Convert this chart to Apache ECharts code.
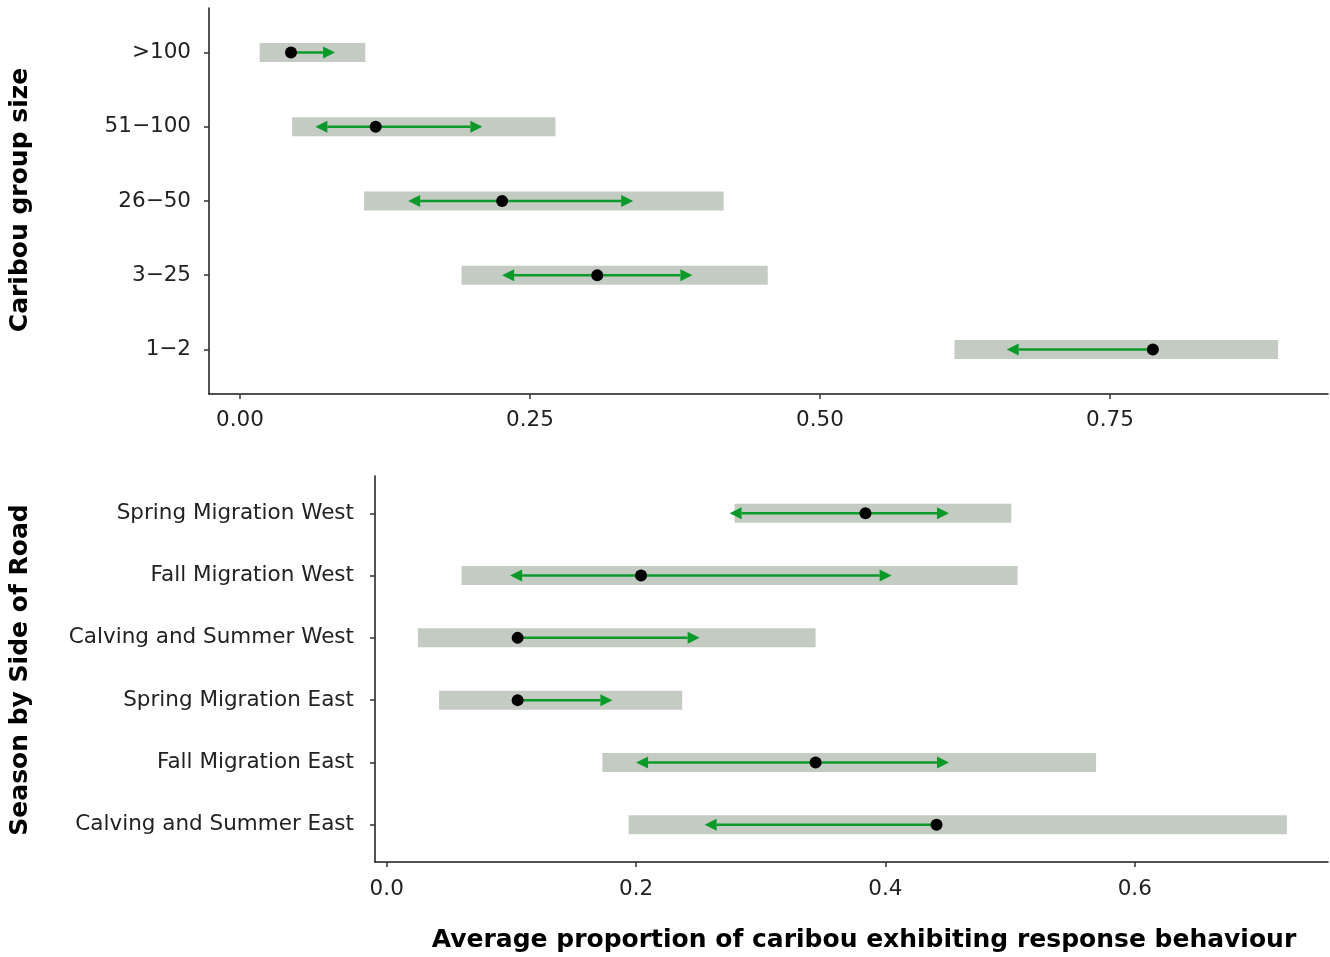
<!DOCTYPE html>
<html>
<head>
<meta charset="utf-8">
<script src="https://cdn.jsdelivr.net/npm/echarts@6/dist/echarts.min.js"></script>
<style>
  html, body { margin: 0; padding: 0; background: #fff; }
  #chart { width: 1330px; height: 957px; }
</style>
</head>
<body>
<div id="chart"></div>
<script>
// categories listed bottom to top (y = 1, 2, ...)
const groupSizes = ['1\u22122', '3\u221225', '26\u221250', '51\u2212100', '>100']
const sizeLo = [0.616, 0.191, 0.107, 0.045, 0.017]
const sizeHi = [0.895, 0.455, 0.417, 0.272, 0.108]
const sizeMean = [0.787, 0.308, 0.226, 0.117, 0.044]
const sizeArrowLeft = [0.661, 0.226, 0.145, 0.065, null]
const sizeArrowRight = [null, 0.390, 0.339, 0.209, 0.082]

const seasons = ['Calving and Summer East', 'Fall Migration East', 'Spring Migration East',
  'Calving and Summer West', 'Fall Migration West', 'Spring Migration West']
const seasonLo = [0.194, 0.173, 0.042, 0.025, 0.060, 0.279]
const seasonHi = [0.722, 0.569, 0.237, 0.344, 0.506, 0.501]
const seasonMean = [0.441, 0.344, 0.105, 0.105, 0.204, 0.384]
const seasonArrowLeft = [0.255, 0.200, null, null, 0.099, 0.275]
const seasonArrowRight = [null, 0.451, 0.181, 0.251, 0.405, 0.451]

const sizeTicks = [0, 0.25, 0.5, 0.75]
const seasonTicks = [0, 0.2, 0.4, 0.6]

const FONT = 'DejaVu Sans'
const GREEN = '#0b9a2a'
const BAND = '#c3cbc3'

function rangeData (lo, hi) {
  return lo.map((v, i) => [v, hi[i], i + 1])
}
function arrowData (mean, left, right) {
  let out = []
  mean.forEach((m, i) => {
    if (left[i] != null) out.push([m, left[i], i + 1])
    if (right[i] != null) out.push([m, right[i], i + 1])
  })
  return out
}

function renderBand (params, api) {
  let a = api.coord([api.value(0), api.value(2)])
  let b = api.coord([api.value(1), api.value(2)])
  let h = 19
  return {
    type: 'rect',
    shape: { x: a[0], y: a[1] - h / 2, width: b[0] - a[0], height: h },
    style: { fill: BAND }
  }
}

function renderArrow (params, api) {
  let s = api.coord([api.value(0), api.value(2)])
  let t = api.coord([api.value(1), api.value(2)])
  let dir = t[0] > s[0] ? 1 : -1
  let len = 12, half = 6
  let base = t[0] - dir * len
  return {
    type: 'group',
    children: [
      {
        type: 'line',
        shape: { x1: s[0], y1: s[1], x2: base, y2: t[1] },
        style: { stroke: GREEN, lineWidth: 2.5 }
      },
      {
        type: 'polygon',
        shape: { points: [[t[0], t[1]], [base, t[1] - half], [base, t[1] + half]] },
        style: { fill: GREEN }
      }
    ]
  }
}

function xAxisOpt (gridIndex, min, max, ticks, digits, margin) {
  return {
    type: 'value',
    gridIndex: gridIndex,
    min: min,
    max: max,
    splitLine: { show: false },
    axisLine: { show: true, onZero: false, lineStyle: { color: '#1a1a1a', width: 1.5 } },
    axisTick: { show: true, length: 5, customValues: ticks, lineStyle: { color: '#333', width: 1.5 } },
    axisLabel: {
      customValues: ticks,
      margin: margin,
      color: '#222',
      fontFamily: FONT,
      fontSize: 21.5,
      formatter: (v) => v.toFixed(digits)
    }
  }
}

function yAxisOpt (gridIndex, labels, margin) {
  let vals = labels.map((l, i) => i + 1)
  return {
    type: 'value',
    gridIndex: gridIndex,
    min: 0.4,
    max: labels.length + 0.6,
    splitLine: { show: false },
    axisLine: { show: true, onZero: false, lineStyle: { color: '#1a1a1a', width: 1.5 } },
    axisTick: { show: true, length: 5, customValues: vals, lineStyle: { color: '#333', width: 1.5 } },
    axisLabel: {
      customValues: vals,
      margin: margin,
      color: '#222',
      fontFamily: FONT,
      fontSize: 21.5,
      formatter: (v) => labels[Math.round(v) - 1]
    }
  }
}

let chartDom = document.getElementById('chart')
let myChart = echarts.init(chartDom)
let option = {
  animation: false,
  backgroundColor: '#fff',
  grid: [
    { left: 209, top: 8, width: 1119, height: 386 },
    { left: 375, top: 476, width: 953, height: 386 }
  ],
  xAxis: [
    xAxisOpt(0, -0.0267, 0.938, sizeTicks, 2, 15),
    xAxisOpt(1, -0.0094, 0.755, seasonTicks, 1, 16)
  ],
  yAxis: [
    yAxisOpt(0, groupSizes, 18),
    yAxisOpt(1, seasons, 21)
  ],
  graphic: [
    {
      type: 'text', x: 20, y: 200, rotation: Math.PI / 2,
      style: { text: 'Caribou group size', fontFamily: FONT, fontSize: 25, fontWeight: 'bold',
        fill: '#000', align: 'center', verticalAlign: 'middle' }
    },
    {
      type: 'text', x: 20, y: 670, rotation: Math.PI / 2,
      style: { text: 'Season by Side of Road', fontFamily: FONT, fontSize: 25, fontWeight: 'bold',
        fill: '#000', align: 'center', verticalAlign: 'middle' }
    },
    {
      type: 'text', x: 864, y: 940,
      style: { text: 'Average proportion of caribou exhibiting response behaviour', fontFamily: FONT,
        fontSize: 25, fontWeight: 'bold', fill: '#000', align: 'center', verticalAlign: 'middle' }
    }
  ],
  series: [
    { type: 'custom', xAxisIndex: 0, yAxisIndex: 0, renderItem: renderBand, data: rangeData(sizeLo, sizeHi), z: 1 },
    { type: 'custom', xAxisIndex: 0, yAxisIndex: 0, renderItem: renderArrow, data: arrowData(sizeMean, sizeArrowLeft, sizeArrowRight), z: 2 },
    { type: 'scatter', xAxisIndex: 0, yAxisIndex: 0, symbolSize: 12, itemStyle: { color: '#000', opacity: 1 },
      data: sizeMean.map((v, i) => [v, i + 1]), z: 3 },
    { type: 'custom', xAxisIndex: 1, yAxisIndex: 1, renderItem: renderBand, data: rangeData(seasonLo, seasonHi), z: 1 },
    { type: 'custom', xAxisIndex: 1, yAxisIndex: 1, renderItem: renderArrow, data: arrowData(seasonMean, seasonArrowLeft, seasonArrowRight), z: 2 },
    { type: 'scatter', xAxisIndex: 1, yAxisIndex: 1, symbolSize: 12, itemStyle: { color: '#000', opacity: 1 },
      data: seasonMean.map((v, i) => [v, i + 1]), z: 3 }
  ]
}
option && myChart.setOption(option)
</script>
</body>
</html>
